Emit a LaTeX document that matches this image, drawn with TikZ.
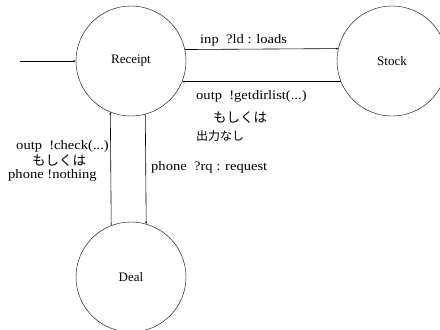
\documentclass[tikz,border=0pt]{standalone}
\usepackage{fontspec}
\setmainfont{Liberation Serif}
\newfontfamily\jpfont{Noto Sans CJK JP}
\newfontfamily\lblfont[FakeStretch=1.12]{Liberation Serif}
\usetikzlibrary{arrows.meta}

\begin{document}
\begin{tikzpicture}[x=1pt,y=-1pt,
      state/.style={draw, circle, minimum size=110pt, inner sep=0pt, font=\fontsize{13}{15}\selectfont},
      lbl/.style={inner sep=0pt, font=\lblfont\fontsize{13}{15}\selectfont},
      jp/.style={inner sep=0pt, font=\jpfont\fontsize{13.5}{15}\selectfont},
      trans/.style={-{Stealth[length=2.5pt,width=2pt]}, semithick}
    ]
    \useasboundingbox (0,0) rectangle (440,330);

    % States
    \node[state] (R) at (131,61) {Receipt};
    \node[state] (S) at (392,61) {Stock};
    \node[state] (D) at (131,277) {Deal};

    % Initial transition
    \coordinate (init) at (20,61);
    \draw[trans] (init) -- (R.west);

    % Receipt and Stock
    \draw[trans] (R.12.6) -- (S.167.4);
    \draw[trans] (S.202.4) -- (R.-22.4);

    % Receipt and Deal
    \draw[trans] (D.111.3) -- (R.248.7);
    \draw[trans] (R.285.8) -- (D.74.2);

    % Transition labels
    \node[lbl, anchor=west] (ld) at (200,40) {inp\ \ ?ld : loads};
    \node[lbl, anchor=west] (gd) at (196,96) {outp\ \ !getdirlist(...)};
    \node[jp] (or1) at (240,118) {もしくは};
    \node[jp, anchor=west, font=\jpfont\fontsize{12}{14}\selectfont] (no) at (196,136) {出力なし};
    \node[lbl, anchor=east] (ck) at (109,146) {outp\ \ !check(...)};
    \node[jp] (or2) at (59,161) {もしくは};
    \node[lbl, anchor=west] (nt) at (8,175) {phone !nothing};
    \node[lbl, anchor=west] (rq) at (151,167) {phone\ \ ?rq : request};

\end{tikzpicture}
\end{document}
